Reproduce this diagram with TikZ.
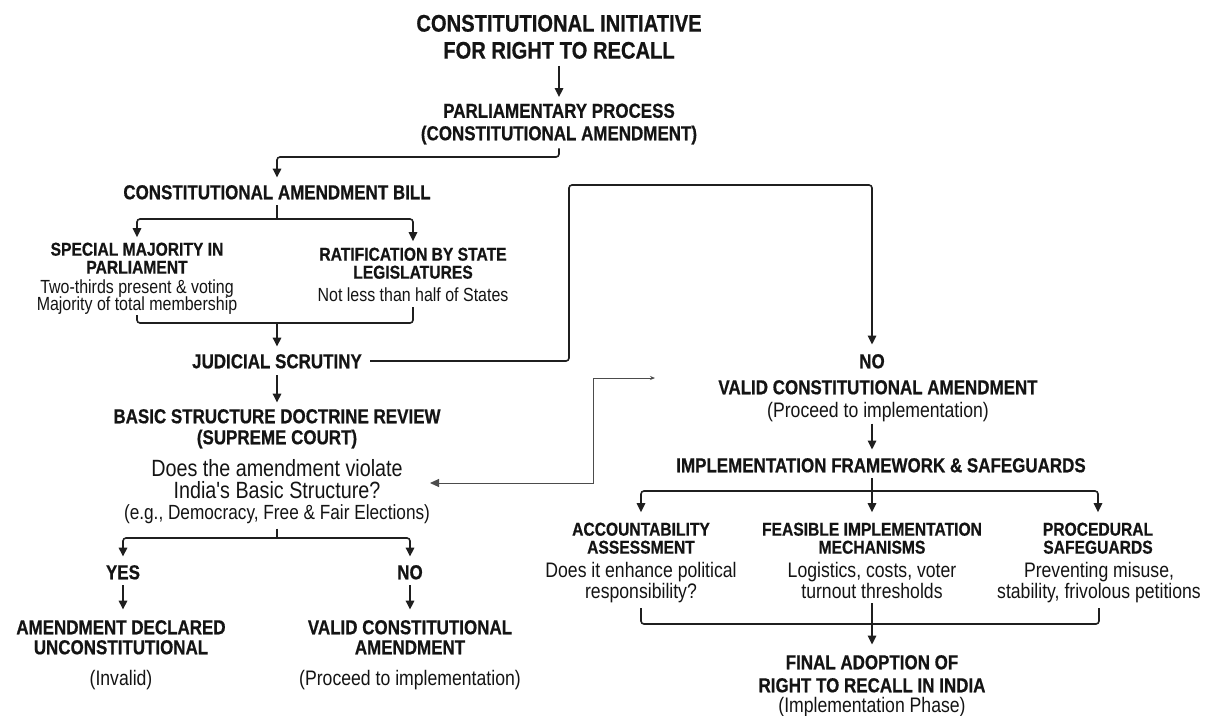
\documentclass[tikz,border=0pt]{standalone}
\usepackage{fontspec}
\newfontfamily\cf{Liberation Sans}[FakeStretch=0.84, BoldFeatures={FakeBold=0.6}]
\usetikzlibrary{arrows.meta,calc}
\tikzset{
 txtb/.style={inner sep=0pt, text depth=0pt, text=black!92},
 ttl/.style={txtb, font=\cf\bfseries\fontsize{24}{24}\selectfont, text height=17.2pt},
 hd/.style={txtb, font=\cf\bfseries\fontsize{20.2}{20}\selectfont, text height=14.5pt},
 sh/.style={txtb, font=\cf\bfseries\fontsize{18.6}{18}\selectfont, text height=13.3pt},
 ta/.style={txtb, font=\cf\fontsize{19}{19}\selectfont, text height=13.6pt},
 tb/.style={txtb, font=\cf\fontsize{21}{21}\selectfont, text height=15pt},
 tq/.style={txtb, font=\cf\fontsize{23.5}{23.5}\selectfont, text height=16.8pt},
 te/.style={txtb, font=\cf\fontsize{20.5}{20.5}\selectfont, text height=14.7pt},
 conn/.style={draw=black!88, line width=1.6pt, rounded corners=3pt},
 arr/.style={conn, -{Triangle[width=8.5pt,length=9pt]}},
 gline/.style={draw=black!70, line width=1pt},
}
\begin{document}
\begin{tikzpicture}[x=1pt,y=-1pt]
\fill[white] (0,0) rectangle (1212,715);
\useasboundingbox (0,0) rectangle (1212,715);

\node[ttl] (title1) at (559,23) {CONSTITUTIONAL INITIATIVE};
\node[ttl] (title2) at (559,50) {FOR RIGHT TO RECALL};
\node[hd] (parl1) at (559,110.5) {PARLIAMENTARY PROCESS};
\node[hd] (parl2) at (559,133) {(CONSTITUTIONAL AMENDMENT)};
\node[hd] (bill) at (277,192) {CONSTITUTIONAL AMENDMENT BILL};
\node[sh] (spec1) at (137,249) {SPECIAL MAJORITY IN};
\node[sh] (spec2) at (137,267) {PARLIAMENT};
\node[ta] (spec3) at (137,287) {Two-thirds present \& voting};
\node[ta] (spec4) at (137,304) {Majority of total membership};
\node[sh] (rat1) at (413,254) {RATIFICATION BY STATE};
\node[sh] (rat2) at (413,272) {LEGISLATURES};
\node[ta] (rat3) at (413,295) {Not less than half of States};
\node[hd] (js) at (277,361) {JUDICIAL SCRUTINY};
\node[hd] (bas1) at (277,416) {BASIC STRUCTURE DOCTRINE REVIEW};
\node[hd] (bas2) at (277,437) {(SUPREME COURT)};
\node[tq] (q1) at (277,468) {Does the amendment violate};
\node[tq] (q2) at (277,490) {India's Basic Structure?};
\node[te] (q3) at (277,512) {(e.g., Democracy, Free \& Fair Elections)};
\node[hd] (yes) at (123,572) {YES};
\node[hd] (no1) at (410,572) {NO};
\node[hd] (dec1) at (121,627) {AMENDMENT DECLARED};
\node[hd] (dec2) at (121,647) {UNCONSTITUTIONAL};
\node[tb] (dec3) at (121,678) {(Invalid)};
\node[hd] (val1) at (410,627) {VALID CONSTITUTIONAL};
\node[hd] (val2) at (410,647) {AMENDMENT};
\node[tb] (val3) at (410,678) {(Proceed to implementation)};
\node[hd] (noR) at (872,361) {NO};
\node[hd] (valR1) at (878,387) {VALID CONSTITUTIONAL AMENDMENT};
\node[tb] (valR2) at (878,410) {(Proceed to implementation)};
\node[hd] (fw) at (881,465) {IMPLEMENTATION FRAMEWORK \& SAFEGUARDS};
\node[sh] (acc1) at (641,529) {ACCOUNTABILITY};
\node[sh] (acc2) at (641,547) {ASSESSMENT};
\node[tb] (acc3) at (641,570) {Does it enhance political};
\node[tb] (acc4) at (641,591) {responsibility?};
\node[sh] (fea1) at (872,529) {FEASIBLE IMPLEMENTATION};
\node[sh] (fea2) at (872,547) {MECHANISMS};
\node[tb] (fea3) at (872,570) {Logistics, costs, voter};
\node[tb] (fea4) at (872,591) {turnout thresholds};
\node[sh] (pro1) at (1098,529) {PROCEDURAL};
\node[sh] (pro2) at (1098,547) {SAFEGUARDS};
\node[tb] (pro3) at (1099,570) {Preventing misuse,};
\node[tb] (pro4) at (1099,591) {stability, frivolous petitions};
\node[hd] (fin1) at (872,662) {FINAL ADOPTION OF};
\node[hd] (fin2) at (872,685) {RIGHT TO RECALL IN INDIA};
\node[tb] (fin3) at (872,705) {(Implementation Phase)};

% connectors
\draw[arr] ($(title2.south)+(0,7)$) -- ($(title2.south |- parl1.north)+(0,-6)$);
\coordinate (j1) at (277,157);
\draw[arr] ($(parl2.south)+(0,8)$) |- (j1) -- ($(bill.north)+(0,-7)$);
\coordinate (j2) at (277,219);
\draw[conn] ($(bill.south)+(0,6)$) -- (j2);
\draw[arr] (j2) -| ($(spec1.north)+(0,-5)$);
\draw[arr] (j2) -| ($(rat1.north)+(0,-6)$);
\coordinate (j3) at (277,323);
\draw[conn] ($(spec4.south)+(0,4)$) |- (j3) -| ($(rat3.south)+(0,5)$);
\draw[arr] (j3) -- ($(js.north)+(0,-7)$);
\coordinate (u1) at (569,185);
\draw[arr] ($(js.east)+(8,0)$) -| (u1) -| ($(noR.north)+(0,-9)$);
\draw[arr] ($(js.south)+(0,7)$) -- ($(bas1.north)+(0,-6)$);
\coordinate (j4) at (277,538);
\draw[conn] ($(q3.south)+(0,9)$) -- (j4);
\draw[arr] (j4) -| ($(yes.north)+(0,-8)$);
\draw[arr] (j4) -| ($(no1.north)+(0,-8)$);
\draw[arr] ($(yes.south)+(0,6)$) -- ($(yes.south |- dec1.north)+(0,-10)$);
\draw[arr] ($(no1.south)+(0,6)$) -- ($(no1.south |- val1.north)+(0,-10)$);
\coordinate (qa) at (430,483);
\coordinate (vc) at (593,378);
\coordinate (va) at (655,378);
\draw[gline, {Triangle[width=8pt,length=9pt]}-{Stealth[width=4pt,length=5pt]}] (qa) -| (vc) -- (va);
\draw[arr] ($(noR |- valR2.south)+(0,6)$) -- ($(noR |- fw.north)+(0,-8)$);
\coordinate (j5) at (872,491);
\draw[conn] ($(noR |- fw.south)+(0,6)$) -- (j5);
\draw[arr] (j5) -- ($(fea1.north)+(0,-10)$);
\draw[arr] (j5) -| ($(acc1.north)+(0,-10)$);
\draw[arr] (j5) -| ($(pro1.north)+(0,-10)$);
\coordinate (j6) at (872,624);
\draw[conn] ($(acc4.south)+(0,9.5)$) |- (j6) -| ($(pro4.south)+(0,9.5)$);
\draw[arr] ($(fea4.south)+(0,4.5)$) -- ($(fin1.north)+(0,-10)$);
\end{tikzpicture}
\end{document}
